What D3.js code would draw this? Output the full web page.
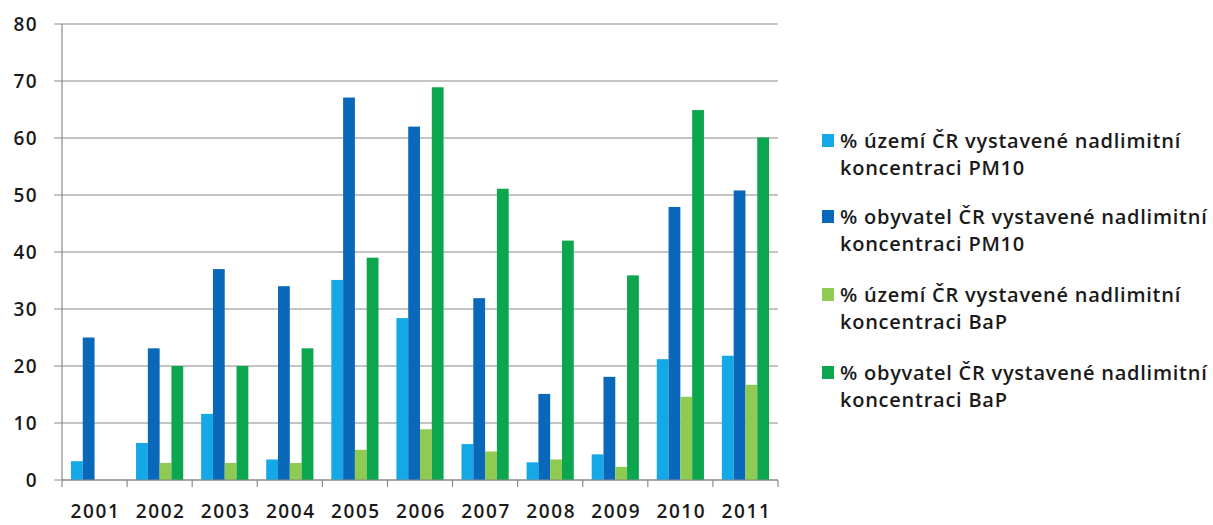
<!DOCTYPE html>
<html>
<head>
<meta charset="utf-8">
<script src="https://cdn.jsdelivr.net/npm/d3@7"></script>
<style>
html,body{margin:0;padding:0;background:#fff;}
svg{display:block;}
text{font-family:"Open Sans",sans-serif;fill:#1a1a1a;}
</style>
</head>
<body>
<svg id="chart" width="1213" height="525"></svg>
<script>
const years = ["2001","2002","2003","2004","2005","2006","2007","2008","2009","2010","2011"];
const uzemiPM10 = [3.3, 6.5, 11.6, 3.6, 35.1, 28.4, 6.3, 3.1, 4.5, 21.2, 21.8];
const obyvatelPM10 = [25, 23.1, 37, 34, 67.1, 62, 31.9, 15.1, 18.1, 47.9, 50.8];
const uzemiBaP = [0, 3, 3, 3, 5.3, 8.9, 5, 3.6, 2.3, 14.6, 16.7];
const obyvatelBaP = [0, 20, 20, 23.1, 39, 68.9, 51.1, 42, 35.9, 64.9, 60.1];
const yTicks = [0, 10, 20, 30, 40, 50, 60, 70, 80];
const seriesNames = [
  ["% území ČR vystavené nadlimitní", "koncentraci PM10"],
  ["% obyvatel ČR vystavené nadlimitní", "koncentraci PM10"],
  ["% území ČR vystavené nadlimitní", "koncentraci BaP"],
  ["% obyvatel ČR vystavené nadlimitní", "koncentraci BaP"]
];
const colors = ["#14a8e8", "#0a68bb", "#8fca52", "#0ca64f"];
const seriesData = [uzemiPM10, obyvatelPM10, uzemiBaP, obyvatelBaP];

(function () {
const svg = d3.select("#chart");
const mLeft = 62, mRight = 778, mTop = 24, mBottom = 480;

const x0 = d3.scaleBand().domain(years).range([mLeft, mRight])
  .paddingInner(0.275).paddingOuter(0.1375);
const x1 = d3.scaleBand().domain(d3.range(4)).range([0, x0.bandwidth()]);
const y = d3.scaleLinear().domain([0, 80]).range([mBottom, mTop]);

// gridlines
svg.append("g").selectAll("line").data(yTicks).join("line")
  .attr("x1", mLeft - 8).attr("x2", mRight)
  .attr("y1", d => y(d)).attr("y2", d => y(d))
  .attr("stroke", "#8a8a8a").attr("stroke-width", 1.2);

// y axis line
svg.append("line").attr("x1", mLeft).attr("x2", mLeft)
  .attr("y1", mTop).attr("y2", mBottom)
  .attr("stroke", "#8a8a8a").attr("stroke-width", 1.2);

// y labels
svg.append("g").selectAll("text").data(yTicks).join("text")
  .attr("x", 38).attr("y", d => y(d)).attr("dy", "0.36em")
  .attr("text-anchor", "end").style("font-size", "19px").style("font-weight", 600)
  .style("letter-spacing", "1.4px")
  .text(d => d);

// bars
const groups = svg.append("g").selectAll("g").data(years).join("g")
  .attr("transform", d => `translate(${x0(d)},0)`);
groups.selectAll("rect").data((d, i) => seriesData.map((s, k) => ({k, v: s[i]}))).join("rect")
  .attr("x", d => x1(d.k)).attr("width", x1.bandwidth())
  .attr("y", d => y(d.v)).attr("height", d => y(0) - y(d.v))
  .attr("fill", d => colors[d.k]);

// x axis line & ticks
svg.append("line").attr("x1", mLeft).attr("x2", mRight)
  .attr("y1", mBottom).attr("y2", mBottom)
  .attr("stroke", "#8a8a8a").attr("stroke-width", 1.2);
const step = x0.step();
const bounds = years.map(d => x0(d) - step * 0.1375).concat([mRight]);
svg.append("g").selectAll("line").data(bounds).join("line")
  .attr("x1", d => d).attr("x2", d => d)
  .attr("y1", mBottom).attr("y2", mBottom + 7)
  .attr("stroke", "#8a8a8a").attr("stroke-width", 1.2);

// x labels
svg.append("g").selectAll("text").data(years).join("text")
  .attr("x", d => x0(d) + x0.bandwidth() / 2 + 1).attr("y", 518)
  .attr("text-anchor", "middle").style("font-size", "19px").style("font-weight", 600)
  .style("letter-spacing", "1.6px")
  .text(d => d);

// legend
const legY = [148, 224, 302, 380];
const leg = svg.append("g").selectAll("g").data(seriesNames).join("g")
  .attr("transform", (d, i) => `translate(822,${legY[i]})`);
leg.append("rect").attr("x", 0).attr("y", -14).attr("width", 12).attr("height", 13)
  .attr("fill", (d, i) => colors[i]);
leg.append("text").attr("x", 18).attr("y", 0)
  .style("font-size", "20px").style("font-weight", 600).style("letter-spacing", "0.75px")
  .text(d => d[0]);
leg.append("text").attr("x", 18).attr("y", 27)
  .style("font-size", "20px").style("font-weight", 600).style("letter-spacing", "0.75px")
  .text(d => d[1]);
})();
</script>
</body>
</html>
